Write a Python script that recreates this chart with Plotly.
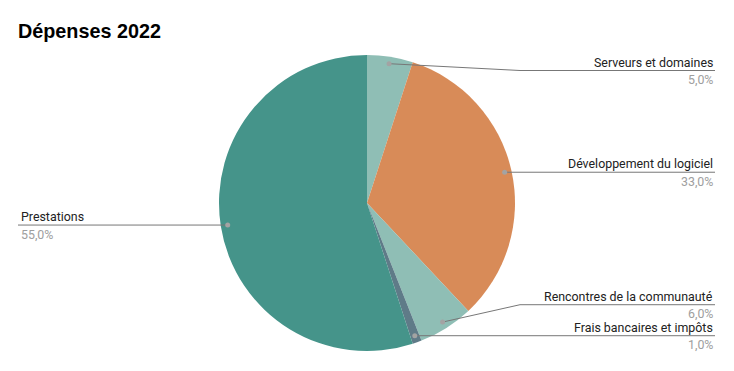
import math
import plotly.graph_objects as go

# ---- data ----
categories = ["Serveurs et domaines", "Développement du logiciel",
              "Rencontres de la communauté", "Frais bancaires et impôts", "Prestations"]
values = [5.0, 33.0, 6.0, 1.0, 55.0]
colors = ["#8fbeb5", "#d88b58", "#8fbeb5", "#5f7b88", "#45948a"]
title = "Dépenses 2022"

# ---- layout constants (pixels) ----
W, H = 734, 371
CX, CY, R = 367, 203, 148
DOT_R = 0.953 * R
RIGHT_X, LEFT_X = 715, 18
BEND_X = 520
LINE_C = "#777777"

fig = go.Figure()
fig.add_trace(go.Pie(
    labels=categories, values=values, sort=False, direction="clockwise", rotation=0,
    marker=dict(colors=colors, line=dict(width=0)), textinfo="none", hoverinfo="skip",
    showlegend=False,
    domain=dict(x=[(CX - R) / W, (CX + R) / W], y=[(H - CY - R) / H, (H - CY + R) / H]),
))

total = sum(values)
cum = 0
items = []
for lab, v in zip(categories, values):
    mid = (cum + v / 2) / total * 2 * math.pi
    cum += v
    dx, dy = CX + DOT_R * math.sin(mid), CY - DOT_R * math.cos(mid)
    pct = f"{v / total * 100:.1f}".replace(".", ",") + "%"
    items.append(dict(label=lab, pct=pct, dx=dx, dy=dy, side="right" if math.sin(mid) > 0 else "left", ly=dy))

# simple collision avoidance on the right
right = sorted([i for i in items if i["side"] == "right"], key=lambda i: i["dy"])
right[-1]["ly"] = min(right[-1]["ly"], 336)
for k in range(len(right) - 2, -1, -1):
    right[k]["ly"] = min(right[k]["dy"], right[k + 1]["ly"] - 31)
for it in right:
    it["ly"] = max(it["ly"], 70.5)

ann = []
shapes = []
FONT = "Roboto"
FS = 12.4
for it in items:
    if it["side"] == "right":
        if abs(it["ly"] - it["dy"]) > 3:
            pts = [(it["dx"], it["dy"]), (BEND_X, it["ly"]), (RIGHT_X, it["ly"])]
        else:
            pts = [(it["dx"], it["ly"]), (RIGHT_X, it["ly"])]
        tx, anchor = RIGHT_X, "right"
    else:
        pts = [(LEFT_X, it["ly"]), (it["dx"], it["ly"])]
        tx, anchor = LEFT_X + 1, "left"
    path = "M " + " L ".join(f"{x:.2f},{y:.2f}" for x, y in pts)
    shapes.append(dict(type="path", path=path, xref="x", yref="y", layer="above",
                       line=dict(color=LINE_C, width=1)))
    rr = 2.5
    shapes.append(dict(type="circle", xref="x", yref="y", layer="above",
                       x0=it["dx"] - rr, x1=it["dx"] + rr, y0=it["dy"] - rr, y1=it["dy"] + rr,
                       fillcolor="#a3a3a3", line=dict(width=0)))
    ann.append(dict(x=tx, y=it["ly"] - 8.5, xref="x", yref="y", text=it["label"], showarrow=False,
                    xanchor=anchor, yanchor="middle", font=dict(family=FONT, size=FS, color="#222222")))
    ann.append(dict(x=tx, y=it["ly"] + 9, xref="x", yref="y", text=it["pct"], showarrow=False,
                    xanchor=anchor, yanchor="middle", font=dict(family=FONT, size=FS, color="#9e9e9e")))

ann.append(dict(x=16, y=31, xref="x", yref="y", text=f"<b>{title}</b>", showarrow=False,
                xanchor="left", yanchor="middle",
                font=dict(family="Liberation Sans, Arial", size=19.8, color="#000000")))

fig.update_layout(
    width=W, height=H, margin=dict(l=0, r=0, t=0, b=0),
    paper_bgcolor="white", plot_bgcolor="rgba(0,0,0,0)",
    xaxis=dict(range=[0, W], visible=False, fixedrange=True),
    yaxis=dict(range=[H, 0], visible=False, fixedrange=True),
    annotations=ann, shapes=shapes, showlegend=False,
)
fig.write_html("out.html", config={"displayModeBar": False})
